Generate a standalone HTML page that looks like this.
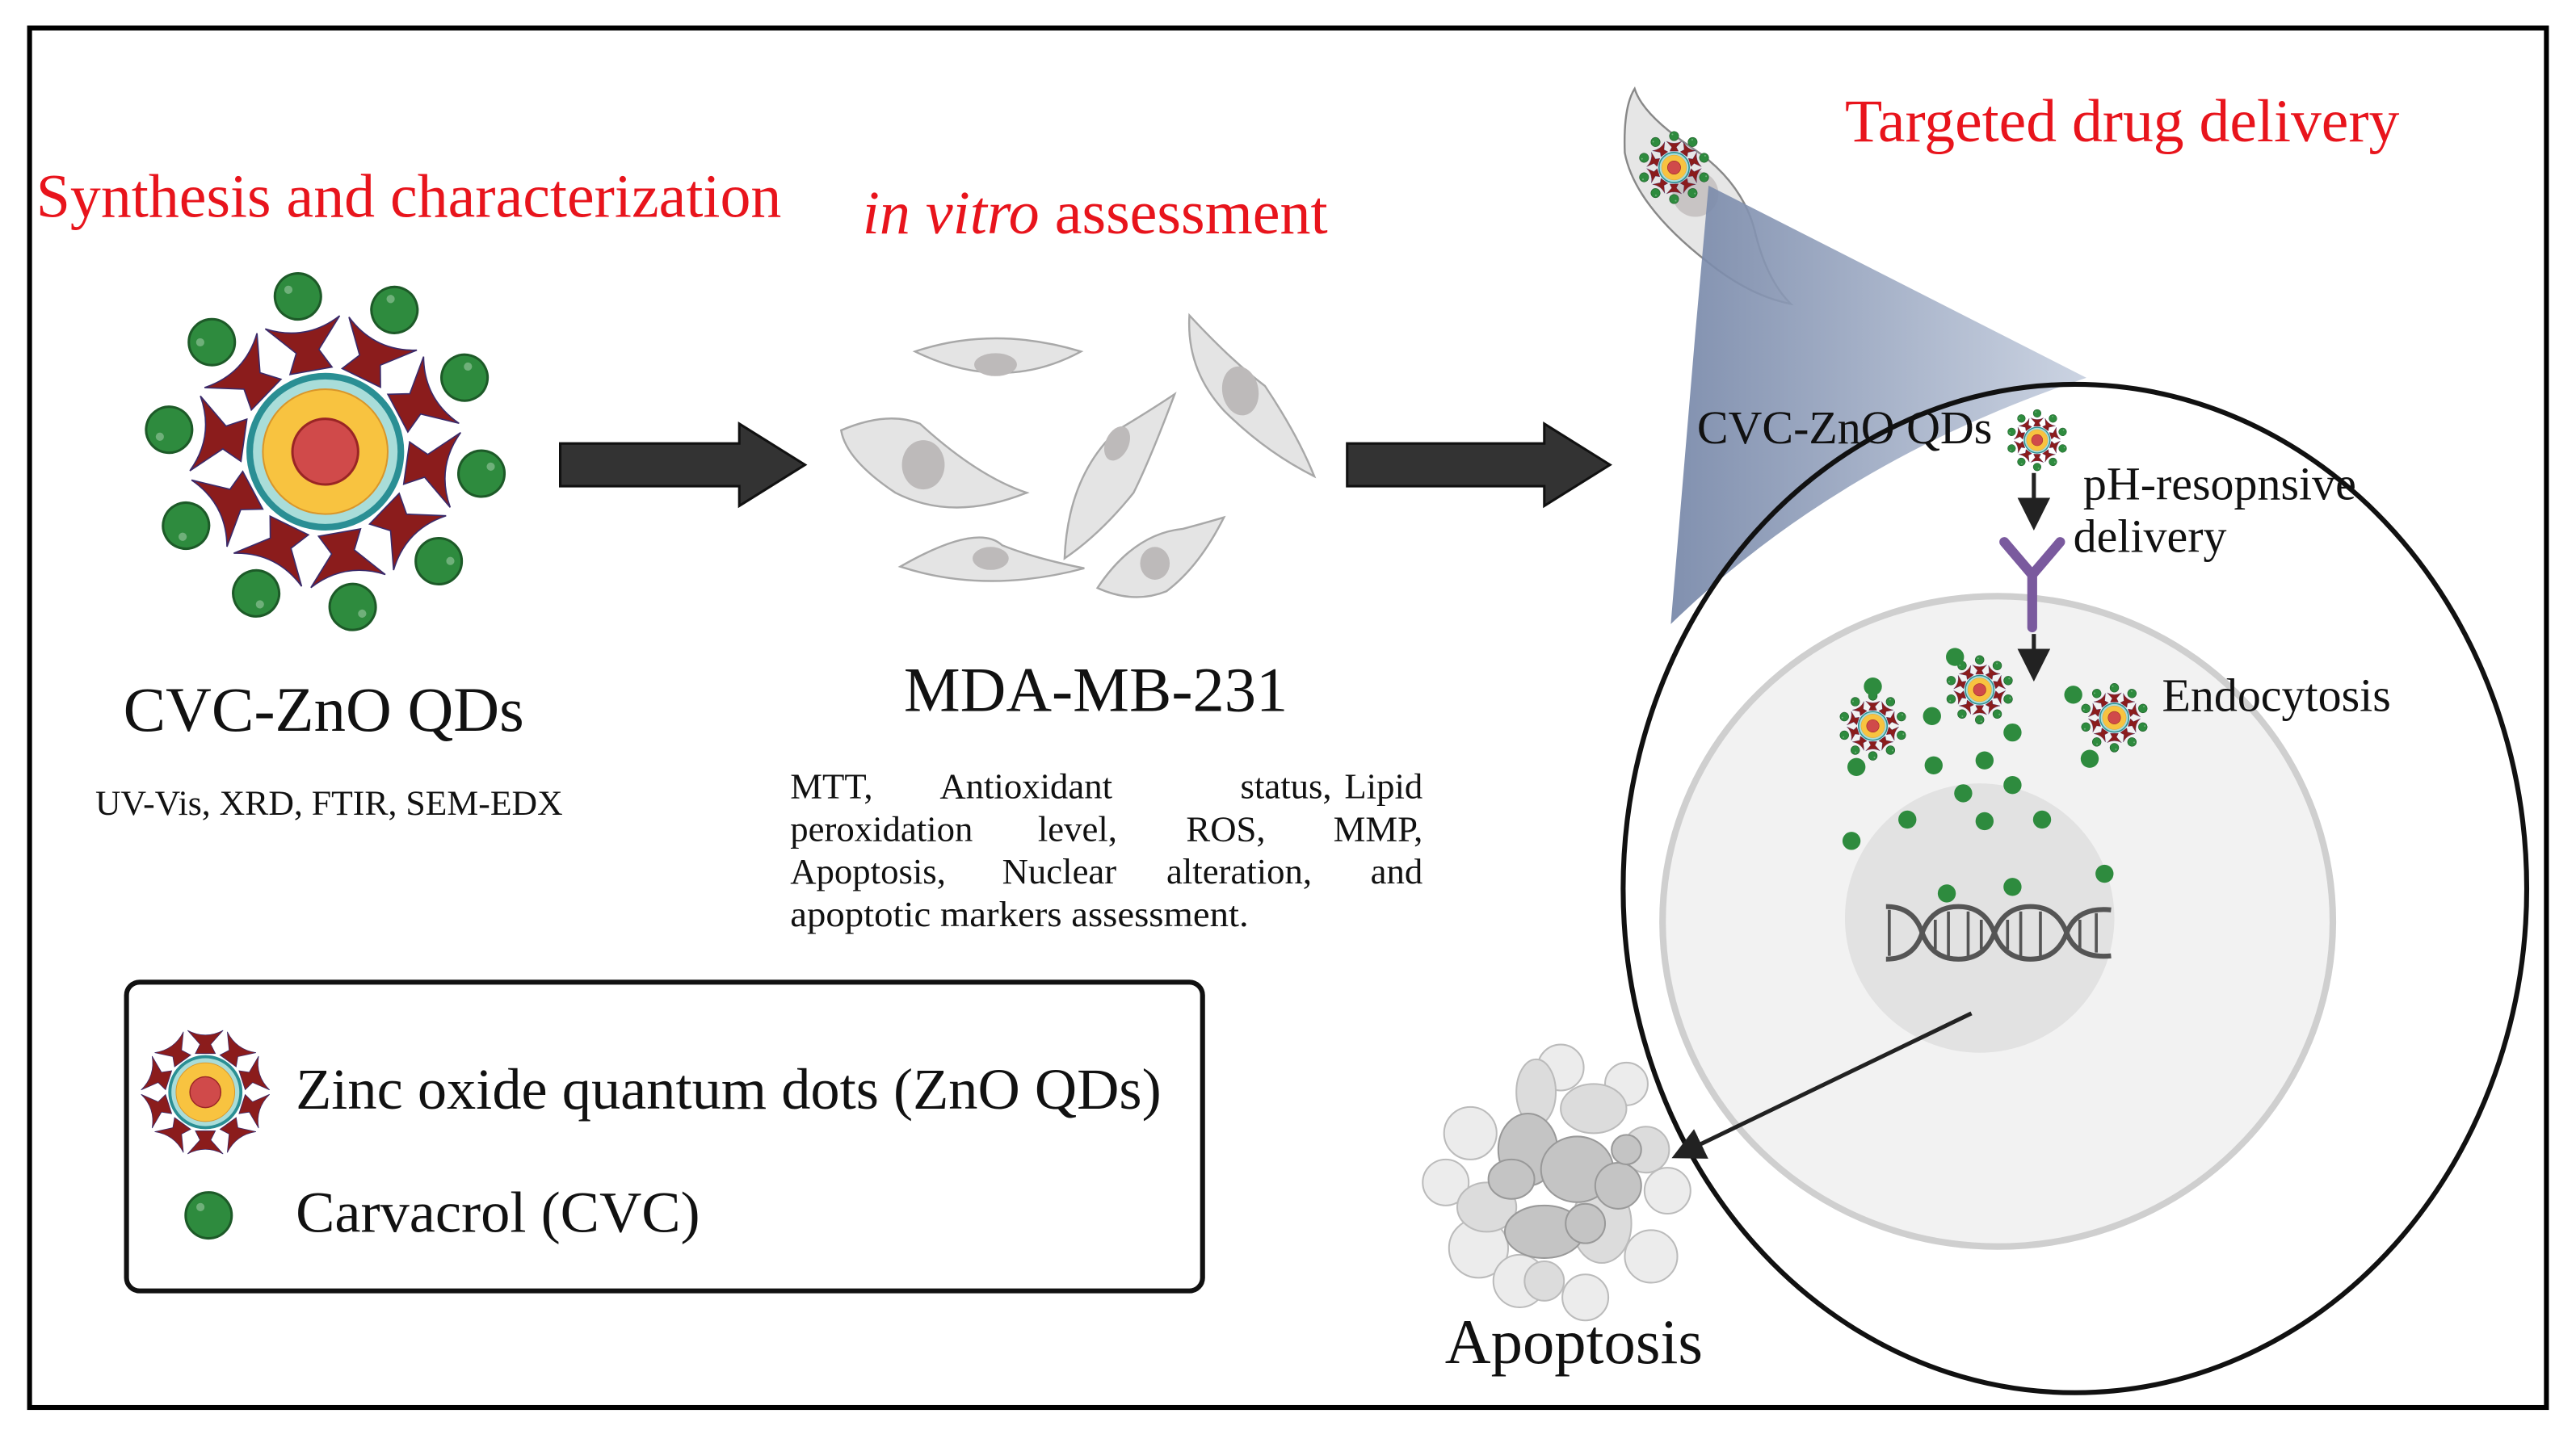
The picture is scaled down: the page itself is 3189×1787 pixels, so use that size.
<!DOCTYPE html>
<html><head><meta charset="utf-8"><style>
html,body{margin:0;padding:0;background:#fff}
svg{display:block}
text{font-family:"Liberation Serif",serif}
</style></head><body>
<svg width="3189" height="1787" viewBox="0 0 1568 878.6" xmlns="http://www.w3.org/2000/svg">
<defs>
<g id="qd">
  <g fill="#8b1c1c" stroke="#3a2a6a" stroke-width="0.8">
    <path id="br" d="M-13,-50 L13,-50 L7,-62 L23,-80 Q0,-68 -23,-80 L-7,-62 Z"/>
    <use href="#br" transform="rotate(36)"/><use href="#br" transform="rotate(72)"/>
    <use href="#br" transform="rotate(108)"/><use href="#br" transform="rotate(144)"/>
    <use href="#br" transform="rotate(180)"/><use href="#br" transform="rotate(216)"/>
    <use href="#br" transform="rotate(252)"/><use href="#br" transform="rotate(288)"/>
    <use href="#br" transform="rotate(324)"/>
  </g>
  <circle r="46" fill="#a9ddd9" stroke="#2a8f94" stroke-width="4"/>
  <circle r="38" fill="#f8c340" stroke="#d9962a" stroke-width="1"/>
  <circle r="20" fill="#d04a4a" stroke="#9a2525" stroke-width="1.5"/>
</g>
<g id="ball"><circle r="14" fill="#2e8b3e" stroke="#1d5a28" stroke-width="1.5"/><circle cx="-5" cy="-5" r="2.5" fill="#6fb07a"/></g>
<g id="qdfull">
  <use href="#qd"/>
  <use href="#ball" transform="rotate(0) translate(0,-96)"/>
  <use href="#ball" transform="rotate(36) translate(0,-96)"/>
  <use href="#ball" transform="rotate(72) translate(0,-96)"/>
  <use href="#ball" transform="rotate(108) translate(0,-96)"/>
  <use href="#ball" transform="rotate(144) translate(0,-96)"/>
  <use href="#ball" transform="rotate(180) translate(0,-96)"/>
  <use href="#ball" transform="rotate(216) translate(0,-96)"/>
  <use href="#ball" transform="rotate(252) translate(0,-96)"/>
  <use href="#ball" transform="rotate(288) translate(0,-96)"/>
  <use href="#ball" transform="rotate(324) translate(0,-96)"/>
</g>
<linearGradient id="beam" x1="0" y1="0" x2="1" y2="0">
  <stop offset="0" stop-color="#7384a6"/><stop offset="1" stop-color="#c6cfdf"/>
</linearGradient>
<marker id="ah" markerWidth="8" markerHeight="8" refX="6" refY="4" orient="auto" markerUnits="strokeWidth">
  <path d="M0,0 L8,4 L0,8 Z" fill="#222"/>
</marker>
</defs>

<rect x="18" y="17" width="1532" height="840" fill="#fff" stroke="#000" stroke-width="3"/>

<!-- Section 1 -->
<text x="22" y="132" font-size="37.3" fill="#e8141c">Synthesis and characterization</text>
<use href="#qdfull" transform="translate(198,275) rotate(-10)"/>
<text x="197" y="445" font-size="38.7" text-anchor="middle" fill="#111">CVC-ZnO QDs</text>
<text x="58" y="496" font-size="21.5" fill="#111">UV-Vis, XRD, FTIR, SEM-EDX</text>

<path d="M341,270 L450,270 L450,258 L490,283 L450,308 L450,296 L341,296 Z" fill="#333" stroke="#111" stroke-width="1.5"/>
<path d="M820,270 L940,270 L940,258 L980,283 L940,308 L940,296 L820,296 Z" fill="#333" stroke="#111" stroke-width="1.5"/>

<!-- Section 2 -->
<text x="525" y="142" font-size="37.4" fill="#e8141c"><tspan font-style="italic">in vitro</tspan> assessment</text>
<g fill="#e4e4e4" stroke="#a8a8a8" stroke-width="1.2">
  <path d="M557,214 Q605,198 658,214 Q610,240 557,214 Z"/>
  <path d="M512,262 Q540,250 560,258 Q595,290 625,300 Q580,318 545,300 Q515,280 512,262 Z"/>
  <path d="M648,340 Q650,290 680,262 Q700,250 715,240 Q700,280 690,300 Q670,325 648,340 Z"/>
  <path d="M724,192 Q750,220 770,235 Q790,265 800,290 Q770,275 745,250 Q722,225 724,192 Z"/>
  <path d="M548,345 Q595,318 610,332 Q630,340 660,346 Q600,362 548,345 Z"/>
  <path d="M668,358 Q690,325 720,322 Q735,318 745,315 Q730,345 710,360 Q690,368 668,358 Z"/>
</g>
<g fill="#bdbaba">
  <ellipse cx="606" cy="222" rx="13" ry="7"/>
  <ellipse cx="562" cy="283" rx="13" ry="15"/>
  <ellipse cx="680" cy="270" rx="7" ry="11" transform="rotate(25 680 270)"/>
  <ellipse cx="755" cy="238" rx="11" ry="15" transform="rotate(-10 755 238)"/>
  <ellipse cx="603" cy="340" rx="11" ry="7"/>
  <ellipse cx="703" cy="343" rx="9" ry="10"/>
</g>
<text x="667" y="433" font-size="38.6" text-anchor="middle" fill="#111">MDA-MB-231</text>
<g font-size="22" fill="#111">
  <text x="481" y="486">MTT,</text><text x="572" y="486">Antioxidant</text><text x="755" y="486">status,</text><text x="866" y="486" text-anchor="end">Lipid</text>
  <text x="481" y="512">peroxidation</text><text x="680" y="512" text-anchor="end">level,</text><text x="722" y="512">ROS,</text><text x="866" y="512" text-anchor="end">MMP,</text>
  <text x="481" y="538">Apoptosis,</text><text x="610" y="538">Nuclear</text><text x="710" y="538">alteration,</text><text x="866" y="538" text-anchor="end">and</text>
  <text x="481" y="564" textLength="279" lengthAdjust="spacingAndGlyphs">apoptotic markers assessment.</text>
</g>

<!-- Section 3 -->
<text x="1123" y="86" font-size="37.2" fill="#e8141c">Targeted drug delivery</text>
<path d="M995,54 Q1000,70 1030,90 Q1060,110 1068,140 Q1075,170 1090,185 Q1065,180 1040,160 Q995,125 989,93 Q988,65 995,54 Z" fill="#e6e6e6" stroke="#888" stroke-width="1.2"/>
<circle cx="1032" cy="118" r="14" fill="#c8c4c4"/>
<use href="#qdfull" transform="translate(1019,102) scale(0.2)"/>
<path d="M1040,113 L1270,230 Q1120,280 1017,380 L1032,202 Z" fill="url(#beam)" opacity="0.9"/>

<ellipse cx="1263" cy="541" rx="275" ry="307" fill="#fff" fill-opacity="0" stroke="#111" stroke-width="3"/>
<ellipse cx="1216" cy="561" rx="204" ry="198" fill="#f2f2f2" stroke="#cfcfcf" stroke-width="4"/>
<circle cx="1205" cy="559" r="82" fill="#e2e2e2"/>
<!-- DNA -->
<g fill="none" stroke="#555" stroke-width="3">
  <path d="M1148,552 Q1165,552 1170,568 Q1176,584 1192,584 Q1208,584 1214,568 Q1220,552 1236,552 Q1252,552 1258,568 Q1264,584 1285,582"/>
  <path d="M1148,584 Q1165,584 1170,568 Q1176,552 1192,552 Q1208,552 1214,568 Q1220,584 1236,584 Q1252,584 1258,568 Q1264,552 1285,554"/>
  <path d="M1150,554 V582 M1178,560 V578 M1186,555 V582 M1198,555 V582 M1206,560 V578 M1222,560 V578 M1230,555 V582 M1242,555 V582 M1266,560 V578 M1276,556 V580" stroke-width="1.8"/>
</g>
<path d="M1200,617 L1022,703" stroke="#222" stroke-width="2.5" fill="none" marker-end="url(#ah)"/>

<text x="1033" y="270" font-size="28.5" fill="#111">CVC-ZnO QDs</text>
<use href="#qdfull" transform="translate(1240,268) scale(0.17)"/>
<path d="M1238,288 V318" stroke="#222" stroke-width="2.5" marker-end="url(#ah)"/>
<path d="M1220,330 L1237,350 L1254,330 M1237,350 V382" stroke="#7a5a9e" stroke-width="6" fill="none" stroke-linecap="round"/>
<path d="M1238,386 V410" stroke="#222" stroke-width="2.5" marker-end="url(#ah)"/>
<text x="1268" y="304" font-size="28.5" fill="#111">pH-resopnsive</text>
<text x="1262" y="336" font-size="28.5" fill="#111">delivery</text>
<text x="1316" y="433" font-size="28.5" fill="#111">Endocytosis</text>
<use href="#qdfull" transform="translate(1140,442) scale(0.19)"/>
<use href="#qdfull" transform="translate(1205,420) scale(0.19)"/>
<use href="#qdfull" transform="translate(1287,437) scale(0.19)"/>
<g fill="#2e8b3e">
  <circle cx="1130" cy="467" r="5.5"/><circle cx="1140" cy="418" r="5.5"/><circle cx="1190" cy="400" r="5.5"/>
  <circle cx="1176" cy="436" r="5.5"/><circle cx="1262" cy="423" r="5.5"/><circle cx="1272" cy="462" r="5.5"/>
  <circle cx="1225" cy="446" r="5.5"/><circle cx="1208" cy="463" r="5.5"/><circle cx="1177" cy="466" r="5.5"/>
  <circle cx="1195" cy="483" r="5.5"/><circle cx="1225" cy="478" r="5.5"/><circle cx="1161" cy="499" r="5.5"/>
  <circle cx="1208" cy="500" r="5.5"/><circle cx="1243" cy="499" r="5.5"/><circle cx="1127" cy="512" r="5.5"/>
  <circle cx="1281" cy="532" r="5.5"/><circle cx="1185" cy="544" r="5.5"/><circle cx="1225" cy="540" r="5.5"/>
</g>

<!-- Apoptosis blob -->
<g stroke="#bbb" stroke-width="1">
  <g fill="#ececec">
    <circle cx="895" cy="690" r="16"/><circle cx="880" cy="720" r="14"/><circle cx="900" cy="760" r="18"/>
    <circle cx="925" cy="780" r="16"/><circle cx="965" cy="790" r="14"/><circle cx="1005" cy="765" r="16"/>
    <circle cx="1015" cy="725" r="14"/><circle cx="990" cy="660" r="13"/><circle cx="950" cy="650" r="14"/>
  </g>
  <g fill="#dcdcdc">
    <ellipse cx="935" cy="665" rx="12" ry="20"/><ellipse cx="970" cy="675" rx="20" ry="15"/>
    <ellipse cx="975" cy="745" rx="18" ry="24"/><ellipse cx="905" cy="735" rx="18" ry="15"/>
    <circle cx="1002" cy="700" r="14"/><circle cx="940" cy="780" r="12"/>
  </g>
  <g fill="#c4c4c4" stroke="#999">
    <ellipse cx="930" cy="700" rx="18" ry="22"/><ellipse cx="920" cy="718" rx="14" ry="12"/>
    <ellipse cx="960" cy="712" rx="22" ry="20"/><ellipse cx="940" cy="750" rx="24" ry="16"/>
    <circle cx="985" cy="722" r="14"/><circle cx="965" cy="745" r="12"/><circle cx="990" cy="700" r="9"/>
  </g>
</g>
<text x="958" y="830" font-size="38.7" text-anchor="middle" fill="#111">Apoptosis</text>

<!-- Legend -->
<rect x="77" y="598" width="655" height="188" rx="8" fill="#fff" stroke="#111" stroke-width="3"/>
<use href="#qd" transform="translate(125,665) scale(0.47)"/>
<text x="180" y="675" font-size="35.6" fill="#111">Zinc oxide quantum dots (ZnO QDs)</text>
<use href="#ball" transform="translate(127,740)"/>
<text x="180" y="750" font-size="35.6" fill="#111">Carvacrol (CVC)</text>
</svg>
</body></html>
